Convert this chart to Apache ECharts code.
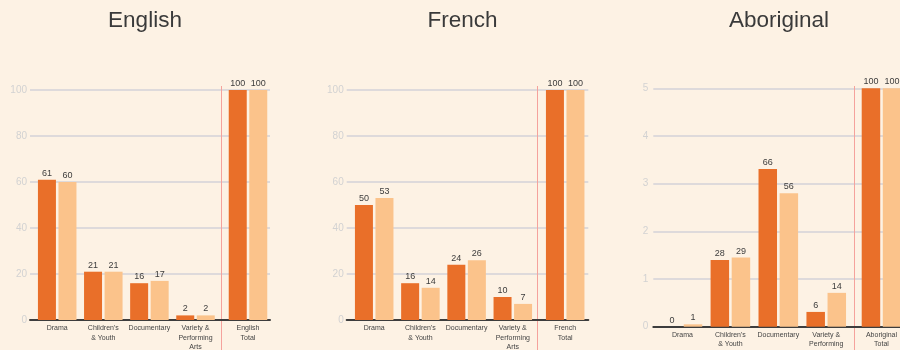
<!DOCTYPE html>
<html>
<head>
<meta charset="utf-8">
<script src="https://cdn.jsdelivr.net/npm/echarts@6/dist/echarts.min.js"></script>
<style>
html,body{margin:0;padding:0;background:#fdf2e4;}
#c{width:900px;height:350px;}
</style>
</head>
<body>
<div id="c"></div>
<script>
// ---- data ----
const categories = ['Drama', "Children's\n& Youth", 'Documentary', 'Variety &\nPerforming\nArts'];
const panelTitles = ['English', 'French', 'Aboriginal'];
const totalCategories = ['English\nTotal', 'French\nTotal', 'Aboriginal\nTotal'];

const englishDark = [61, 21, 16, 2];
const englishLight = [60, 21, 17, 2];
const englishTotal = [100, 100];

const frenchDark = [50, 16, 24, 10];
const frenchLight = [53, 14, 26, 7];
const frenchTotal = [100, 100];

const aboriginalDark = [0, 1.40, 3.31, 0.31];
const aboriginalLight = [0.05, 1.45, 2.80, 0.71];
const aboriginalTotal = [5, 5];
const aboriginalDarkLabels = [0, 28, 66, 6];
const aboriginalLightLabels = [1, 29, 56, 14];
const aboriginalTotalLabels = [100, 100];

const pctAxis = { min: 0, max: 100, interval: 20 };
const abAxis = { min: 0, max: 5, interval: 1 };

// ---- styles / layout ----
const DARK = '#e96f29';
const LIGHT = '#fbc38b';
const GRIDC = '#d3d2d8';
const SEPC = '#f5a29c';
const FONT = 'Liberation Sans, Arial, sans-serif';

const panels = [
  { titleX: 145, bgL: 30, bgW: 240, top: 90, bottom: 30, aL: 34.15, aW: 184.4, bL: 221.5, bW: 53, yl: 3, bar: 18, axis: pctAxis,
    dark: englishDark, light: englishLight, total: englishTotal, dl: null, ll: null, tl: null },
  { titleX: 462.5, bgL: 346.7, bgW: 241.6, top: 90, bottom: 30, aL: 351.1, aW: 184.8, bL: 537.5, bW: 55.4, yl: 3, bar: 18, axis: pctAxis,
    dark: frenchDark, light: frenchLight, total: frenchTotal, dl: null, ll: null, tl: null },
  { titleX: 779, bgL: 653.3, bgW: 260, top: 88.3, bottom: 23.3, aL: 658.5, aW: 191.7, bL: 854.5, bW: 54, yl: 5, bar: 18.5, axis: abAxis,
    dark: aboriginalDark, light: aboriginalLight, total: aboriginalTotal, dl: aboriginalDarkLabels, ll: aboriginalLightLabels, tl: aboriginalTotalLabels }
];

const grid = [], xAxis = [], yAxis = [], series = [], graphic = [];
const valLabel = (arr) => ({
  show: true, position: 'top', distance: 2, fontSize: 9, color: '#3c3c3c', fontFamily: FONT,
  formatter: arr ? (p) => String(arr[p.dataIndex]) : (p) => String(p.value)
});
const catLabel = () => ({ interval: 0, fontSize: 7, lineHeight: 9.5, color: '#444', margin: 3.5, fontFamily: FONT });
const gbase = () => ({ outerBoundsMode: 'none', containLabel: false });
const off = () => ({ show: false });
const hiddenY = (p, gi) => ({ gridIndex: gi, type: 'value', min: p.axis.min, max: p.axis.max, show: false,
  axisLine: off(), axisTick: off(), axisLabel: off(), splitLine: off(), splitArea: off() });

panels.forEach((p, i) => {
  const g0 = grid.length;
  grid.push(Object.assign({ left: p.bgL, width: p.bgW, top: p.top, bottom: p.bottom }, gbase()));
  grid.push(Object.assign({ left: p.aL, width: p.aW, top: p.top, bottom: p.bottom }, gbase()));
  grid.push(Object.assign({ left: p.bL, width: p.bW, top: p.top, bottom: p.bottom }, gbase()));
  // separator grid: wide, so only its left split line is on the canvas
  grid.push(Object.assign({ left: p.bL, width: 3000, top: 86, bottom: 0 }, gbase()));

  xAxis.push({ gridIndex: g0, type: 'value', min: 0, max: 1, axisLine: { show: true, lineStyle: { color: '#3d3d3d', width: 2 } },
    axisTick: off(), axisLabel: off(), splitLine: off(), splitArea: off() });
  yAxis.push({ gridIndex: g0, type: 'value', min: p.axis.min, max: p.axis.max, interval: p.axis.interval,
    axisLine: off(), axisTick: off(),
    axisLabel: { color: '#d2d2d2', fontSize: 10, margin: p.yl, fontFamily: FONT },
    splitLine: { lineStyle: { color: GRIDC, width: 1.5 } } });

  xAxis.push({ gridIndex: g0 + 1, type: 'category', data: categories, axisLine: off(), axisTick: off(),
    splitLine: off(), splitArea: off(), axisLabel: catLabel() });
  yAxis.push(hiddenY(p, g0 + 1));

  xAxis.push({ gridIndex: g0 + 2, type: 'category', data: [totalCategories[i]], axisLine: off(), axisTick: off(),
    splitLine: off(), splitArea: off(), axisLabel: catLabel() });
  yAxis.push(hiddenY(p, g0 + 2));

  xAxis.push({ gridIndex: g0 + 3, type: 'value', min: 0, max: 1, interval: 1, axisLine: off(), axisTick: off(), axisLabel: off(),
    splitLine: { show: true, lineStyle: { color: SEPC, width: 1 } }, splitArea: off() });
  yAxis.push({ gridIndex: g0 + 3, type: 'value', min: 0, max: 1, show: false,
    axisLine: off(), axisTick: off(), axisLabel: off(), splitLine: off(), splitArea: off() });

  const barGap = (2.5 / p.bar * 100).toFixed(0) + '%';
  series.push({ type: 'bar', xAxisIndex: g0 + 1, yAxisIndex: g0 + 1, data: p.dark, barWidth: p.bar, barGap: barGap,
    itemStyle: { color: DARK }, label: valLabel(p.dl), z: 3 });
  series.push({ type: 'bar', xAxisIndex: g0 + 1, yAxisIndex: g0 + 1, data: p.light, barWidth: p.bar, barGap: barGap,
    itemStyle: { color: LIGHT }, label: valLabel(p.ll), z: 3 });
  series.push({ type: 'bar', xAxisIndex: g0 + 2, yAxisIndex: g0 + 2, data: [p.total[0]], barWidth: p.bar, barGap: barGap,
    itemStyle: { color: DARK }, label: valLabel(p.tl ? [p.tl[0]] : null), z: 3 });
  series.push({ type: 'bar', xAxisIndex: g0 + 2, yAxisIndex: g0 + 2, data: [p.total[1]], barWidth: p.bar, barGap: barGap,
    itemStyle: { color: LIGHT }, label: valLabel(p.tl ? [p.tl[1]] : null), z: 3 });

  graphic.push({ type: 'text', x: p.titleX, y: 21, style: { text: panelTitles[i], textAlign: 'center', textVerticalAlign: 'middle',
    fontSize: 22.5, fill: '#3a3a3a', fontFamily: FONT } });
});

const chart = echarts.init(document.getElementById('c'), null, { renderer: 'canvas' });
chart.setOption({
  backgroundColor: '#fdf2e4',
  animation: false,
  grid, xAxis, yAxis, series, graphic
});
</script>
</body>
</html>
